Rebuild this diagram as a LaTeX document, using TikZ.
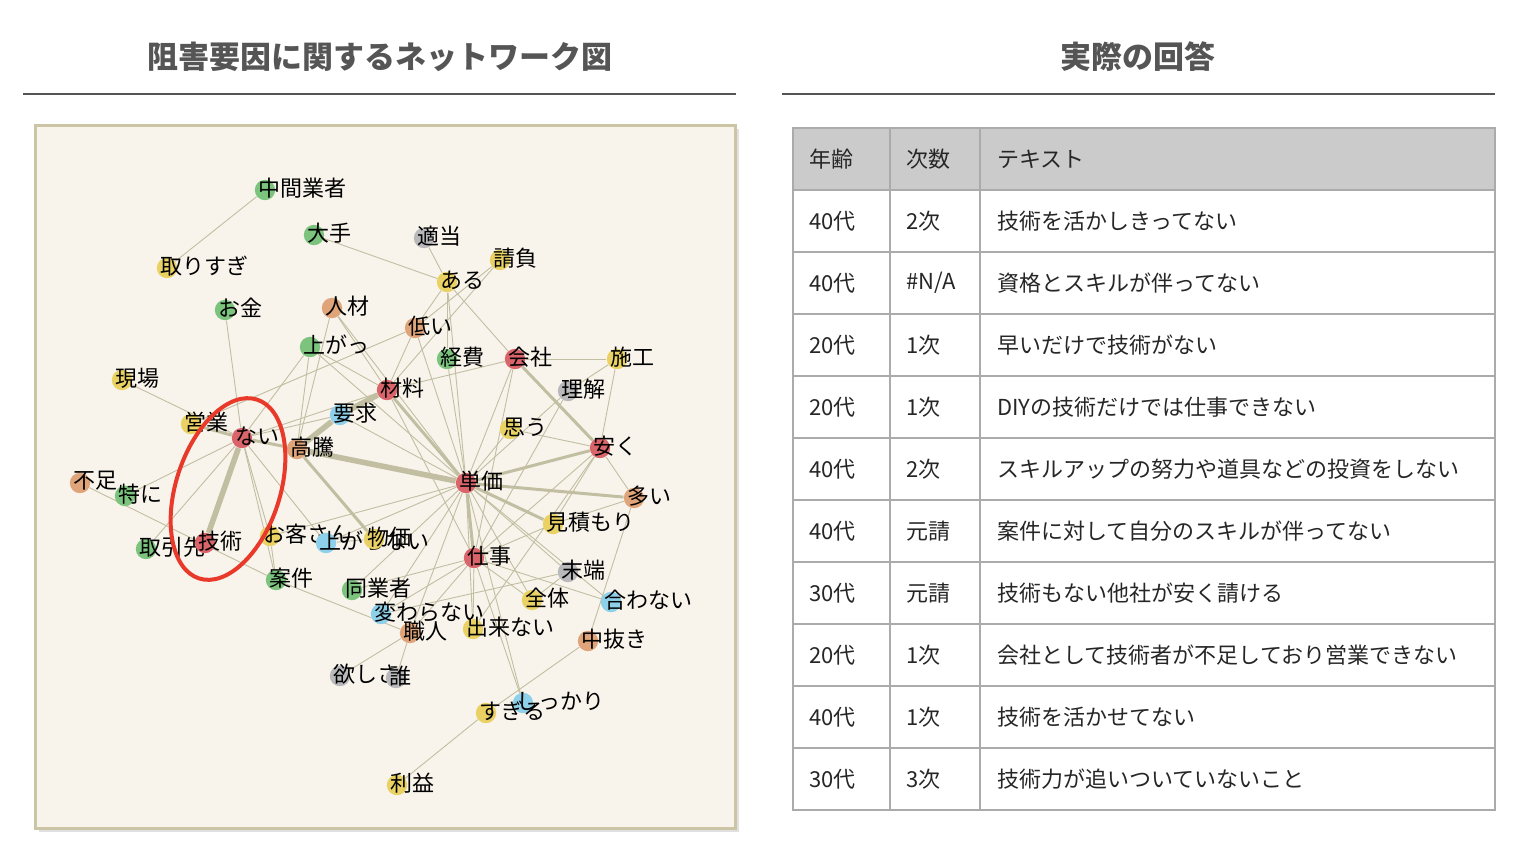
\documentclass[tikz,border=0pt]{standalone}
\usepackage{fontspec}
\setmainfont{Noto Sans CJK JP}
\usetikzlibrary{backgrounds}

\definecolor{rd}{HTML}{D9646A}
\definecolor{gn}{HTML}{7CC47E}
\definecolor{yl}{HTML}{E9D263}
\definecolor{og}{HTML}{E0A47A}
\definecolor{bl}{HTML}{8ED0EA}
\definecolor{gy}{HTML}{B9B9BB}
\definecolor{edgecol}{HTML}{C2BEA2}
\definecolor{paper}{HTML}{F8F4EC}
\definecolor{frame}{HTML}{CBC5A6}
\definecolor{headgray}{HTML}{555555}
\definecolor{gridgray}{HTML}{ABABAB}
\definecolor{headfill}{HTML}{CBCBCB}
\definecolor{mark}{HTML}{E8392B}

\tikzset{
  dot/.style={circle, fill=#1, minimum size=10.2pt, inner sep=0pt},
  word/.style={font=\fontsize{11}{13}\selectfont, inner sep=0pt,
               xshift=-9pt, yshift=1pt},
  tie/.style={draw=edgecol, line width=0.45pt},
  tiemid/.style={draw=edgecol, line width=1.5pt},
  tiethick/.style={draw=edgecol, line width=2.8pt},
  head/.style={font=\fontsize{15.5}{18}\bfseries, text=headgray},
  rule/.style={draw=headgray, line width=0.8pt},
  grid/.style={draw=gridgray, line width=1pt},
  cell/.style={anchor=west, font=\fontsize{11}{13}\selectfont, text=black!85, inner sep=0pt},
  circled/.style={draw=mark, line width=2pt}
}

\begin{document}
\begin{tikzpicture}[x=0.5pt,y=-0.5pt, every label/.append style={word}]
\useasboundingbox (0,0) rectangle (1520,842);

% titles
\node[head] (lhead) at (380,57) {阻害要因に関するネットワーク図};
\node[head] (rhead) at (1138,57) {実際の回答};
\draw[rule] (23,94) -- (736,94);
\draw[rule] (782,94) -- (1495,94);

% panel
\begin{scope}[on background layer]
\fill[black!12] (39,129) rectangle (739,832);
\draw[fill=paper, draw=frame, line width=1.5pt] (35,125) rectangle (735,828);
\end{scope}

% words
\foreach \n/\x/\y/\c/\t in {
  chukan/265/190/gn/中間業者, ote/314/235/gn/大手, torisugi/167/268/yl/取りすぎ,
  tekito/424/238/gy/適当, ukeoi/500/260/yl/請負, aru/447/282/yl/ある,
  okane/225/310/gn/お金, jinzai/332/308/og/人材, hikui/415/328/og/低い,
  agatt/310/347/gn/上がっ, keihi/447/359/gn/経費, kaisha/515/359/rd/会社,
  seko/617/359/yl/施工, genba/122/380/yl/現場, zairyo/387/390/rd/材料,
  rikai/568/391/gy/理解, yokyu/340/415/bl/要求, eigyo/191/424/yl/営業,
  omou/510/429/yl/思う, nai/242/438/rd/ない, yasuku/600/448/rd/安く,
  koto/297/449/og/高騰, fusoku/80/483/og/不足, tanka/466/483/rd/単価,
  tokuni/125/496/gn/特に, oi/634/498/og/多い, mitsumori/553/524/yl/見積もり,
  okyaku/270/536/yl/お客さん, agaranai/326/543/bl/上がらない, bukka/374/539/yl/物価,
  torihiki/146/549/gn/取引先, gijutsu/205/543/rd/技術, anken/276/580/gn/案件,
  shigoto/474/558/rd/仕事, mattan/568/572/gy/末端, dogyo/352/590/gn/同業者,
  zentai/532/600/yl/全体, awanai/611/602/bl/合わない, kawaranai/381/614/bl/変わらない,
  shokunin/410/633/og/職人, dekinai/473/629/yl/出来ない, nakanuki/588/641/og/中抜き,
  hoshisa/340/676/gy/欲しさ, dare/396/678/gy/誰, shikkari/523/703/bl/しっかり,
  sugiru/486/713/yl/すぎる, rieki/397/785/yl/利益}
  \node[dot=\c, label={0:\t}] (\n) at (\x,\y) {};

% links
\begin{scope}[on background layer]
\foreach \a/\b in {chukan/torisugi, ote/aru, tekito/aru, ukeoi/hikui, ukeoi/zairyo,
  aru/hikui, aru/keihi, aru/kaisha, aru/tanka, hikui/zairyo, hikui/tanka, hikui/eigyo,
  okane/nai, genba/nai, jinzai/zairyo, jinzai/koto, jinzai/tanka,
  agatt/nai, agatt/koto, agatt/zairyo, agatt/tanka, nai/yokyu, nai/zairyo,
  nai/torihiki, nai/tokuni, nai/okyaku, nai/anken, nai/agaranai, yokyu/tanka,
  zairyo/kaisha, zairyo/shigoto, keihi/tanka, kaisha/seko, kaisha/tanka, kaisha/shigoto,
  seko/rikai, seko/yasuku, rikai/tanka, rikai/shigoto, omou/yasuku, omou/tanka,
  yasuku/oi, yasuku/mitsumori, yasuku/shigoto, yasuku/dekinai,
  tanka/mattan, tanka/awanai, tanka/okyaku, tanka/agaranai, tanka/kawaranai,
  tanka/dogyo, tanka/zentai, tanka/shokunin, tanka/dekinai, tanka/shikkari,
  oi/mitsumori, oi/nakanuki, fusoku/anken, okyaku/anken, anken/shokunin,
  shigoto/kawaranai, shigoto/shokunin, shigoto/dekinai, shigoto/shikkari,
  shigoto/zentai, shigoto/awanai, shigoto/mitsumori, shigoto/dogyo,
  mattan/kawaranai, shokunin/hoshisa, shokunin/dare, nakanuki/sugiru,
  sugiru/rieki, bukka/agaranai, zentai/mattan}
  \draw[tie] (\a) -- (\b);
\foreach \a/\b in {eigyo/nai, nai/koto, koto/bukka, zairyo/tanka, kaisha/yasuku,
  yasuku/tanka, tanka/oi, tanka/mitsumori, tanka/shigoto}
  \draw[tiemid] (\a) -- (\b);
\foreach \a/\b in {nai/gijutsu, yokyu/zairyo, yokyu/koto, koto/tanka}
  \draw[tiethick] (\a) -- (\b);
\end{scope}

% highlight
\draw[circled] (228,489) ellipse [x radius=26pt, y radius=47pt, rotate=-18];

% table
\fill[headfill] (793,128) rectangle (1495,190);
\draw[grid] (793,128) rectangle (1495,810);
\foreach \y in {190,252,...,748}
  \draw[grid] (793,\y) -- (1495,\y);
\draw[grid] (890,128) -- (890,810);
\draw[grid] (980,128) -- (980,810);

\node[cell] (h1) at (809,159) {年齢};
\node[cell] (h2) at (906,159) {次数};
\node[cell] (h3) at (997,159) {テキスト};
\foreach \a/\b/\t [count=\i] in {
  40代/2次/技術を活かしきってない,
  40代/{\#N/A}/資格とスキルが伴ってない,
  20代/1次/早いだけで技術がない,
  20代/1次/DIYの技術だけでは仕事できない,
  40代/2次/スキルアップの努力や道具などの投資をしない,
  40代/元請/案件に対して自分のスキルが伴ってない,
  30代/元請/技術もない他社が安く請ける,
  20代/1次/会社として技術者が不足しており営業できない,
  40代/1次/技術を活かせてない,
  30代/3次/技術力が追いついていないこと}{
  \node[cell] (age\i) at (809,159+62*\i) {\a};
  \node[cell] (tier\i) at (906,159+62*\i) {\b};
  \node[cell] (text\i) at (997,159+62*\i) {\t};
}
\end{tikzpicture}
\end{document}
